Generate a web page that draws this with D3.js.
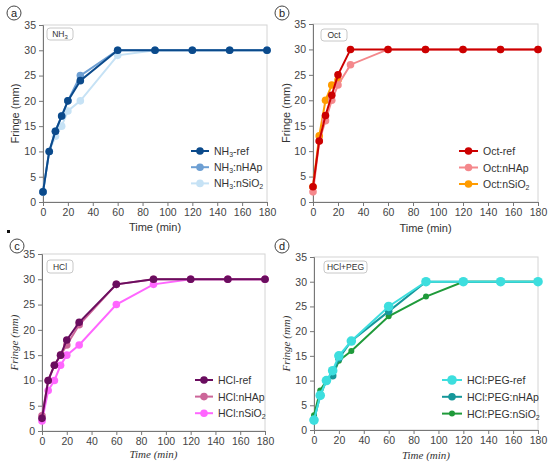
<!DOCTYPE html>
<html>
<head>
<meta charset="utf-8">
<script src="https://cdn.jsdelivr.net/npm/d3@7"></script>
<style>
  body { margin: 0; background: #fff; }
  svg { display: block; }
</style>
</head>
<body>
<div id="chart"></div>
<script>
// sample times (min)
var times = [0, 5, 10, 15, 20, 30, 60, 90, 120, 150, 180];
var xTicks = [0, 20, 40, 60, 80, 100, 120, 140, 160, 180];
var yTicks = [0, 5, 10, 15, 20, 25, 30, 35];

// fringe (mm)
var nh3Ref   = [2, 10, 14, 17, 20, 24, 30, 30, 30, 30, 30];
var nh3NHAp  = [2, 10, 14, 17, 20, 25, 30, 30, 30, 30, 30];
var nh3NSiO2 = [2, 10, 13, 15, 18, 20, 29, 30, 30, 30, 30];

var octRef   = [3, 12, 17, 21, 25, 30, 30, 30, 30, 30, 30];
var octNHAp  = [2, 12, 16, 20, 23, 27, 30, 30, 30, 30, 30];
var octNSiO2 = [3, 13, 20, 23, 24];

var hclRef   = [2.5, 10, 13, 15, 18, 21.5, 29, 30, 30, 30, 30];
var hclNHAp  = [3, 10, 13, 15, 17, 21, 29, 30, 30, 30, 30];
var hclNSiO2 = [2, 8, 10, 13, 15, 17, 25, 29, 30, 30, 30];

var pegRef   = [2, 7, 10, 12, 15, 18, 25, 30, 30, 30, 30];
var pegNHAp  = [2, 7, 10, 11, 14.5, 18, 24, 30, 30, 30, 30];
var pegNSiO2 = [3, 8, 10, 11, 14, 16, 23, 27, 30, 30, 30];

var svg = d3.select("#chart").append("svg")
    .attr("width", 550)
    .attr("height", 466);

// tiny stray mark in the original figure
svg.append("rect").attr("x", 7).attr("y", 230).attr("width", 3).attr("height", 3).attr("fill", "#111");

function panel(p) {
    var x = d3.scaleLinear().domain([0, 180]).range([p.x0, p.x1]);
    var y = d3.scaleLinear().domain([0, 35]).range([p.y1, p.y0]);
    var g = svg.append("g");

    // light frame
    g.append("rect")
        .attr("x", p.x0).attr("y", p.y0)
        .attr("width", p.x1 - p.x0).attr("height", p.y1 - p.y0)
        .attr("fill", "none").attr("stroke", "#d4d4d4").attr("stroke-width", 1);

    var xAxis = g.append("g")
        .attr("transform", "translate(0," + p.y1 + ")")
        .call(d3.axisBottom(x).tickValues(xTicks).tickSize(4).tickPadding(3));
    var yAxis = g.append("g")
        .attr("transform", "translate(" + p.x0 + ",0)")
        .call(d3.axisLeft(y).tickValues(yTicks).tickSize(4).tickPadding(3));
    [xAxis, yAxis].forEach(function(a) {
        a.selectAll("path,line").attr("stroke", "#777");
        a.selectAll("text").attr("fill", "#444").attr("font-size", "10.5px")
            .attr("font-family", "Liberation Sans, Arial, sans-serif");
    });

    var titleFont = p.serif ? "Liberation Serif, serif" : "Liberation Sans, Arial, sans-serif";
    var titleStyle = p.serif ? "italic" : "normal";
    g.append("text")
        .attr("x", (p.x0 + p.x1) / 2).attr("y", p.xTitleY)
        .attr("text-anchor", "middle")
        .attr("font-family", titleFont).attr("font-style", titleStyle)
        .attr("font-size", "11px").attr("fill", "#333")
        .text("Time (min)");
    g.append("text")
        .attr("transform", "translate(" + p.yTitleX + "," + (p.y0 + p.y1) / 2 + ") rotate(-90)")
        .attr("text-anchor", "middle")
        .attr("font-family", titleFont).attr("font-style", titleStyle)
        .attr("font-size", "11px").attr("fill", "#333")
        .text("Fringe (mm)");

    // label box
    g.append("rect")
        .attr("x", p.box[0]).attr("y", p.box[1])
        .attr("width", p.box[2]).attr("height", p.box[3])
        .attr("rx", 3)
        .attr("fill", "#fff").attr("stroke", "#c8c8c8");
    var lab = g.append("text")
        .attr("x", p.box[0] + p.box[2] / 2).attr("y", p.box[1] + p.box[3] / 2 + 3)
        .attr("text-anchor", "middle")
        .attr("font-family", "Liberation Sans, Arial, sans-serif")
        .attr("font-size", "8.5px").attr("fill", "#333");
    lab.append("tspan").text(p.label);
    if (p.labelSub) lab.append("tspan").attr("font-size", "6px").attr("dy", 2).text(p.labelSub);

    // circled letter
    g.append("circle").attr("cx", p.letter[0]).attr("cy", p.letter[1]).attr("r", 7)
        .attr("fill", "#fff").attr("stroke", "#444").attr("stroke-width", 1);
    g.append("text").attr("x", p.letter[0]).attr("y", p.letter[1] + 3.5)
        .attr("text-anchor", "middle")
        .attr("font-family", "Liberation Sans, Arial, sans-serif")
        .attr("font-size", "11px").attr("fill", "#222")
        .text(p.letterText);

    var line = d3.line()
        .x(function(d) { return x(d[0]); })
        .y(function(d) { return y(d[1]); });

    // draw last series first so the reference lies on top
    p.series.slice().reverse().forEach(function(s) {
        var pts = s.values.map(function(v, i) { return [times[i], v]; });
        g.append("path").datum(pts)
            .attr("d", line)
            .attr("fill", "none").attr("stroke", s.color).attr("stroke-width", s.width || 2);
        g.selectAll(null).data(pts).enter().append("circle")
            .attr("cx", function(d) { return x(d[0]); })
            .attr("cy", function(d) { return y(d[1]); })
            .attr("r", s.r || 3.8)
            .attr("fill", s.color);
    });

    // legend
    p.series.forEach(function(s, i) {
        var ly = p.legend[1] + i * p.legendStep;
        g.append("line")
            .attr("x1", p.legend[0]).attr("x2", p.legend[0] + p.legendLen)
            .attr("y1", ly).attr("y2", ly)
            .attr("stroke", s.color).attr("stroke-width", s.width || 2);
        g.append("circle")
            .attr("cx", p.legend[0] + p.legendLen / 2).attr("cy", ly)
            .attr("r", s.r || 3.8).attr("fill", s.color);
        var t = g.append("text")
            .attr("x", p.legend[0] + p.legendLen + 5).attr("y", ly + 4)
            .attr("font-family", "Liberation Sans, Arial, sans-serif")
            .attr("font-size", "10.5px").attr("fill", "#333");
        t.append("tspan").text(s.name[0]);
        if (s.name[1]) {
            t.append("tspan").attr("font-size", "7px").attr("dy", 2).text(s.name[1]);
            t.append("tspan").attr("dy", -2).text(s.name[2]);
        }
        if (s.name[3]) t.append("tspan").attr("font-size", "7px").attr("dy", 2).text(s.name[3]);
    });
}

panel({
    x0: 43, x1: 267, y0: 25, y1: 202, xTitleY: 231, yTitleX: 19, serif: false,
    box: [47, 28, 26, 12], label: "NH", labelSub: "3",
    letter: [14, 13], letterText: "a",
    legend: [191, 151], legendStep: 16.2, legendLen: 18,
    series: [
        { name: ["NH", "3", "-ref"], values: nh3Ref, color: "#0b4a8b" },
        { name: ["NH", "3", ":nHAp"], values: nh3NHAp, color: "#6d9fd3" },
        { name: ["NH", "3", ":nSiO", "2"], values: nh3NSiO2, color: "#c6e2f5" }
    ]
});

panel({
    x0: 313, x1: 538, y0: 24, y1: 202, xTitleY: 232, yTitleX: 290, serif: false,
    box: [321, 29, 26, 12], label: "Oct",
    letter: [282, 13], letterText: "b",
    legend: [459, 151], legendStep: 16.5, legendLen: 19,
    series: [
        { name: ["Oct-ref"], values: octRef, color: "#cc0000" },
        { name: ["Oct:nHAp"], values: octNHAp, color: "#f4888c" },
        { name: ["Oct:nSiO", "2", ""], values: octNSiO2, color: "#ff9c00" }
    ]
});

panel({
    x0: 42, x1: 265, y0: 254, y1: 431, xTitleY: 458, yTitleX: 18, serif: true,
    box: [47, 260, 26, 13], label: "HCl",
    letter: [17, 246], letterText: "c",
    legend: [195, 380], legendStep: 16.6, legendLen: 18,
    series: [
        { name: ["HCl-ref"], values: hclRef, color: "#6a0d5f" },
        { name: ["HCl:nHAp"], values: hclNHAp, color: "#cc6699" },
        { name: ["HCl:nSiO", "2", ""], values: hclNSiO2, color: "#ff66ff" }
    ]
});

panel({
    x0: 314, x1: 538, y0: 257, y1: 430, xTitleY: 459, yTitleX: 290, serif: true,
    box: [324, 261, 43, 12], label: "HCl+PEG",
    letter: [282, 246], letterText: "d",
    legend: [442, 380], legendStep: 16.8, legendLen: 20,
    series: [
        { name: ["HCl:PEG-ref"], values: pegRef, color: "#3ddede", r: 4.8 },
        { name: ["HCl:PEG:nHAp"], values: pegNHAp, color: "#16979a", r: 3.8 },
        { name: ["HCl:PEG:nSiO", "2", ""], values: pegNSiO2, color: "#1f9a3a", r: 3 }
    ]
});
</script>
</body>
</html>
